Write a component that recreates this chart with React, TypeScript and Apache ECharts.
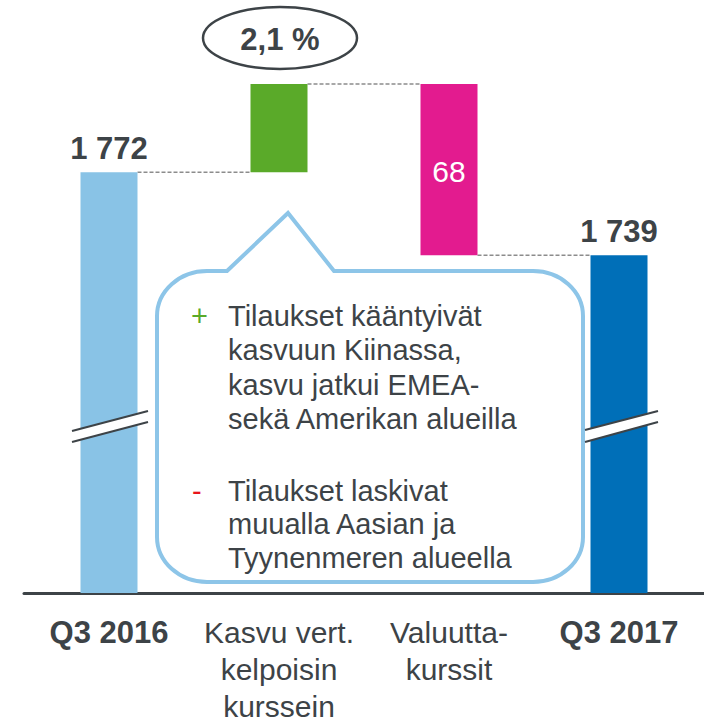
import React, { useEffect, useRef } from "react";
import * as echarts from "echarts";

// ---- data ----
const categories = ["Q3 2016", "Kasvu vert.\nkelpoisin\nkurssein", "Valuutta-\nkurssit", "Q3 2017"];
const kinds = ["total", "delta", "delta", "total"];
const values = [1772, 35, -68, 1739];
const barColors = ["#89C3E6", "#5AAA29", "#E31B8F", "#006FB8"];
const growthPctLabel = "2,1 %";
const plusLines = ["Tilaukset kääntyivät", "kasvuun Kiinassa,", "kasvu jatkui EMEA-", "sekä Amerikan alueilla"];
const minusLines = ["Tilaukset laskivat", "muualla Aasian ja", "Tyynenmeren alueella"];

const FONT = "'Liberation Sans', Arial, sans-serif";
const TEXT = "#3D4347";
const BAR_W = 57;

const calloutPath =
  "M207,271 L227,271 L288,213 L334,271 L533,271 A50,45 0 0 1 583,316 L583,537 A50,45 0 0 1 533,582 L207,582 A50,45 0 0 1 157,537 L157,316 A50,45 0 0 1 207,271 Z";
echarts.graphic.registerShape("callout", echarts.graphic.extendPath(calloutPath, {}) as any);

function fmt(v: number) {
  const a = Math.abs(v);
  if (a >= 1000) return `${Math.floor(a / 1000)} ${String(a % 1000).padStart(3, "0")}`;
  return String(a);
}

export default function App() {
  const ref = useRef<HTMLDivElement>(null);
  useEffect(() => {
    if (!ref.current) return;
    const chart = echarts.init(ref.current, undefined, { renderer: "svg" });

    // waterfall computation
    const base: number[] = [];
    const shown: any[] = [];
    const levels: number[] = [];
    let level = 0;
    let maxLevel = 0;
    values.forEach((v, i) => {
      if (kinds[i] === "total") {
        level = v;
        base.push(0);
        shown.push({
          value: v,
          itemStyle: { color: barColors[i] },
          label: {
            show: true,
            position: "top",
            distance: 8,
            formatter: fmt(v),
            fontFamily: FONT,
            fontSize: 31,
            fontWeight: "bold",
            color: TEXT,
          },
        });
      } else {
        const lo = v >= 0 ? level : level + v;
        base.push(lo);
        shown.push({
          value: Math.abs(v),
          itemStyle: { color: barColors[i] },
          label:
            v < 0
              ? {
                  show: true,
                  position: "inside",
                  offset: [0, 1.5],
                  formatter: fmt(v),
                  fontFamily: FONT,
                  fontSize: 30,
                  color: "#FFFFFF",
                }
              : { show: false },
        });
        level = level + v;
      }
      maxLevel = Math.max(maxLevel, level, lo(i));
      levels.push(level);
    });
    function lo(i: number) {
      return kinds[i] === "total" ? values[i] : 0;
    }
    const connectors = levels.slice(0, levels.length - 1).map((l, i) => [i, l]);
    // top of the highest step
    let run = 0;
    let top = 0;
    values.forEach((v, i) => {
      run = kinds[i] === "total" ? v : run + v;
      top = Math.max(top, run);
    });

    const option: any = {
      animation: false,
      grid: { left: 24, right: 0, top: 84, bottom: 130 },
      xAxis: {
        type: "category",
        data: categories,
        axisTick: { show: false },
        axisLine: { lineStyle: { color: TEXT, width: 3 } },
        axisLabel: {
          interval: 0,
          margin: 21,
          fontFamily: FONT,
          fontSize: 30,
          lineHeight: 37,
          color: TEXT,
          formatter: (v: string) => (v.startsWith("Q3") ? `{b|${v}}` : v),
          rich: {
            b: { fontFamily: FONT, fontSize: 31, fontWeight: "bold", color: TEXT, lineHeight: 37 },
          },
        },
      },
      yAxis: {
        type: "value",
        min: 1605,
        max: top,
        show: false,
        splitLine: { show: false },
      },
      series: [
        {
          type: "bar",
          stack: "wf",
          barWidth: BAR_W,
          data: base,
          itemStyle: { color: "rgba(0,0,0,0)" },
          silent: true,
          clip: true,
        },
        {
          type: "bar",
          stack: "wf",
          barWidth: BAR_W,
          data: shown,
          clip: true,
        },
        {
          type: "custom",
          data: connectors,
          z: 1,
          renderItem: (params: any, api: any) => {
            const i = api.value(0);
            const y = api.value(1);
            const p1 = api.coord([i, y]);
            const p2 = api.coord([i + 1, y]);
            return {
              type: "line",
              shape: { x1: p1[0] + BAR_W / 2, y1: p1[1], x2: p2[0] - BAR_W / 2, y2: p2[1] },
              style: { stroke: "#8C8C8C", lineWidth: 1.5, lineDash: [4, 2] },
            };
          },
        },
      ],
      graphic: [
        {
          type: "ellipse",
          z: 100,
          shape: { cx: 280, cy: 38, rx: 77, ry: 31 },
          style: { fill: "#FFFFFF", stroke: TEXT, lineWidth: 2.5 },
        },
        {
          type: "text",
          z: 101,
          x: 280,
          y: 39,
          style: {
            text: growthPctLabel,
            fontFamily: FONT,
            fontSize: 31,
            fontWeight: "bold",
            fill: TEXT,
            align: "center",
            verticalAlign: "middle",
          },
        },
        // axis break marks
        {
          type: "polygon",
          z: 100,
          shape: { points: [[72, 431], [148, 411], [148, 422], [72, 442]] },
          style: { fill: "#FFFFFF" },
        },
        { type: "line", z: 101, shape: { x1: 72, y1: 431, x2: 148, y2: 411 }, style: { stroke: TEXT, lineWidth: 2 } },
        { type: "line", z: 101, shape: { x1: 72, y1: 442, x2: 148, y2: 422 }, style: { stroke: TEXT, lineWidth: 2 } },
        {
          type: "polygon",
          z: 100,
          shape: { points: [[585, 430], [658, 411], [658, 422], [585, 442]] },
          style: { fill: "#FFFFFF" },
        },
        { type: "line", z: 101, shape: { x1: 585, y1: 430, x2: 658, y2: 411 }, style: { stroke: TEXT, lineWidth: 2 } },
        { type: "line", z: 101, shape: { x1: 585, y1: 442, x2: 658, y2: 422 }, style: { stroke: TEXT, lineWidth: 2 } },
        // callout
        {
          type: "callout",
          z: 90,
          x: 0,
          y: 0,
          shape: {},
          style: { fill: "#FFFFFF", stroke: "#8DC5E8", lineWidth: 4 },
        },
        {
          type: "text",
          z: 95,
          x: 191,
          y: 299,
          style: { text: "+", fontFamily: FONT, fontSize: 29, lineHeight: 34.3, fill: "#5AAA29", verticalAlign: "top" },
        },
        {
          type: "text",
          z: 95,
          x: 228,
          y: 299,
          style: {
            text: plusLines.join("\n"),
            fontFamily: FONT,
            fontSize: 29,
            lineHeight: 34.3,
            fill: TEXT,
            verticalAlign: "top",
          },
        },
        {
          type: "text",
          z: 95,
          x: 192,
          y: 474,
          style: { text: "-", fontFamily: FONT, fontSize: 29, lineHeight: 33.5, fill: "#E8141B", verticalAlign: "top" },
        },
        {
          type: "text",
          z: 95,
          x: 228,
          y: 474,
          style: {
            text: minusLines.join("\n"),
            fontFamily: FONT,
            fontSize: 29,
            lineHeight: 33.5,
            fill: TEXT,
            verticalAlign: "top",
          },
        },
      ],
    };
    chart.setOption(option);
    return () => chart.dispose();
  }, []);

  return (
    <div
      ref={ref}
      style={{ position: "fixed", left: 0, top: 0, width: 704, height: 725, background: "#FFFFFF" }}
    />
  );
}
